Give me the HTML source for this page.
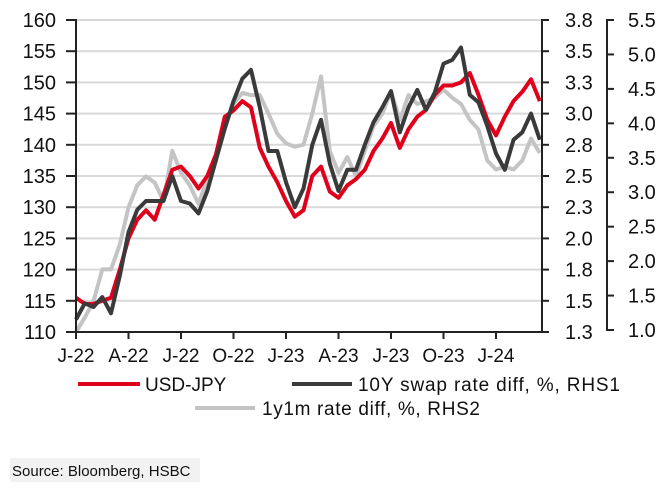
<!DOCTYPE html>
<html><head><meta charset="utf-8"><style>
html,body{margin:0;padding:0;background:#fff;}
svg{display:block;font-family:"Liberation Sans",Arial,sans-serif;}
</style></head><body>
<svg id="chart" width="666" height="496" viewBox="0 0 666 496" xmlns="http://www.w3.org/2000/svg">
<g id="grid"></g>
<g id="series"></g>
<g id="axes"></g>
<g font-size="19" fill="#111">
  <line x1="78" y1="384" x2="140" y2="384" stroke="#e0001b" stroke-width="4"/>
  <text x="145" y="391">USD-JPY</text>
  <line x1="292" y1="384" x2="352" y2="384" stroke="#3a3a3a" stroke-width="4"/>
  <text x="358" y="391" textLength="262">10Y swap rate diff, %, RHS1</text>
  <line x1="195" y1="408" x2="255" y2="408" stroke="#c4c4c4" stroke-width="4"/>
  <text x="262" y="415" textLength="218">1y1m rate diff, %, RHS2</text>
</g>
<rect x="10" y="458" width="190" height="24" fill="#f2f2f2"/>
<text x="12" y="476" font-size="15" fill="#111">Source: Bloomberg, HSBC</text>
</svg>
<script>
const xTickLabels = ["J-22","A-22","J-22","O-22","J-23","A-23","J-23","O-23","J-24"];
const leftTicks = [110,115,120,125,130,135,140,145,150,155,160];
const rhs1Ticks = ["1.3","1.5","1.8","2.0","2.3","2.5","2.8","3.0","3.3","3.5","3.8"];
const rhs2Ticks = ["1.0","1.5","2.0","2.5","3.0","3.5","4.0","4.5","5.0","5.5"];
// semi-monthly observations starting Jan 2022
const usdJpy = [115.5,114.5,114.5,115,115.5,120,125,128,129.5,128,132,136,136.5,135,133,135,138.5,144.5,145.5,147,146,139.5,136.5,134,131,128.5,129.5,135,136.5,132.5,131.5,133.5,134.5,136,139,141,143.5,139.5,142.5,144.5,145.6,148,149.5,149.5,150,151.5,148,144,141.5,144.5,147,148.5,150.5,147];
const swap10y = [1.40,1.53,1.50,1.58,1.45,1.75,2.10,2.28,2.35,2.35,2.35,2.55,2.35,2.33,2.25,2.43,2.68,2.93,3.15,3.33,3.40,3.10,2.75,2.75,2.50,2.30,2.45,2.80,3.00,2.65,2.43,2.60,2.60,2.80,2.98,3.10,3.23,2.90,3.10,3.24,3.08,3.22,3.45,3.48,3.58,3.20,3.14,2.95,2.73,2.60,2.84,2.90,3.05,2.84];
const rate1y1m = [0.97,1.18,1.42,1.88,1.88,2.24,2.78,3.10,3.23,3.14,2.87,3.60,3.28,3.10,2.83,3.19,3.46,3.96,4.28,4.44,4.41,4.41,4.14,3.85,3.71,3.66,3.69,4.14,4.68,3.60,3.28,3.51,3.23,3.60,3.96,4.14,4.46,4.05,4.41,4.28,4.32,4.37,4.49,4.37,4.28,4.05,3.91,3.46,3.33,3.37,3.33,3.46,3.78,3.57];

const NS="http://www.w3.org/2000/svg";
const X0=76, X1=542, YT=20, YB=332, QW=52.5, STEP=QW/6;
const xAt = i => X0 + i*STEP;
const yLeft = v => YT + (160 - v)/50*(YB-YT);
const yR1 = v => YT + (3.8 - v)/2.5*(YB-YT);
const yR2 = v => 20 + (5.5 - v)/4.5*310;
function mk(tag, attrs, parent){const e=document.createElementNS(NS,tag);for(const k in attrs)e.setAttribute(k,attrs[k]);parent.appendChild(e);return e;}
const grid=document.getElementById('grid'), axes=document.getElementById('axes'), ser=document.getElementById('series');

leftTicks.forEach((t,i)=>{
  const y=yLeft(t);
  if(t>110){const g=mk('line',{x1:X0,y1:y,x2:X1,y2:y,stroke:'#d9d9d9','stroke-width':2},grid);
    
    }
  const tk=mk('line',{x1:66,y1:y,x2:X0,y2:y,stroke:'#222','stroke-width':2},axes);
  
  
  const lb=mk('text',{x:56,y:y+7,'text-anchor':'end','font-size':20,fill:'#111'},axes);
  lb.textContent=t;
  
  
  const t1=mk('line',{x1:X1,y1:y,x2:X1+7,y2:y,stroke:'#222','stroke-width':2},axes);
  
  
  const l1=mk('text',{x:565,y:y+7,'font-size':20,fill:'#111'},axes);
  l1.textContent=rhs1Ticks[i];
  
  
});
rhs2Ticks.forEach((t)=>{
  const y=yR2(parseFloat(t));
  const tk=mk('line',{x1:607,y1:y,x2:614,y2:y,stroke:'#222','stroke-width':2},axes);
  
  
  const lb=mk('text',{x:628,y:y+7,'font-size':20,fill:'#111'},axes);
  lb.textContent=t;
  
  
});
const la=mk('line',{x1:X0,y1:YT-1,x2:X0,y2:YB,stroke:'#222','stroke-width':2},axes);


const ra=mk('line',{x1:X1,y1:YT-1,x2:X1,y2:YB+1,stroke:'#222','stroke-width':2},axes);


const r2=mk('line',{x1:607,y1:yR2(5.5)-1,x2:607,y2:yR2(1.0)+1,stroke:'#222','stroke-width':2},axes);


const xa=mk('line',{x1:X0,y1:YB,x2:X1,y2:YB,stroke:'#222','stroke-width':2},axes);


xTickLabels.forEach((t,i)=>{
  const x=X0+i*QW;
  const tk=mk('line',{x1:x,y1:YB,x2:x,y2:YB+7,stroke:'#222','stroke-width':2},axes);
  
  
  const lb=mk('text',{x:x,y:362,'text-anchor':'middle','font-size':19,fill:'#111'},axes);
  lb.textContent=t;
  
  
});
function line(vals, yf, color, name){
  const d=vals.map((v,i)=>(i?'L':'M')+xAt(i).toFixed(1)+' '+yf(v).toFixed(1)).join(' ');
  const p=mk('path',{d:d,fill:'none',stroke:color,'stroke-width':4,'stroke-linejoin':'round'},ser);
  
  
}
line(rate1y1m, yR2, '#c4c4c4', 'series-1y1m-rate-diff');
line(usdJpy, yLeft, '#e0001b', 'series-usdjpy');
line(swap10y, yR1, '#3a3a3a', 'series-10y-swap-diff');
</script>
</body></html>
